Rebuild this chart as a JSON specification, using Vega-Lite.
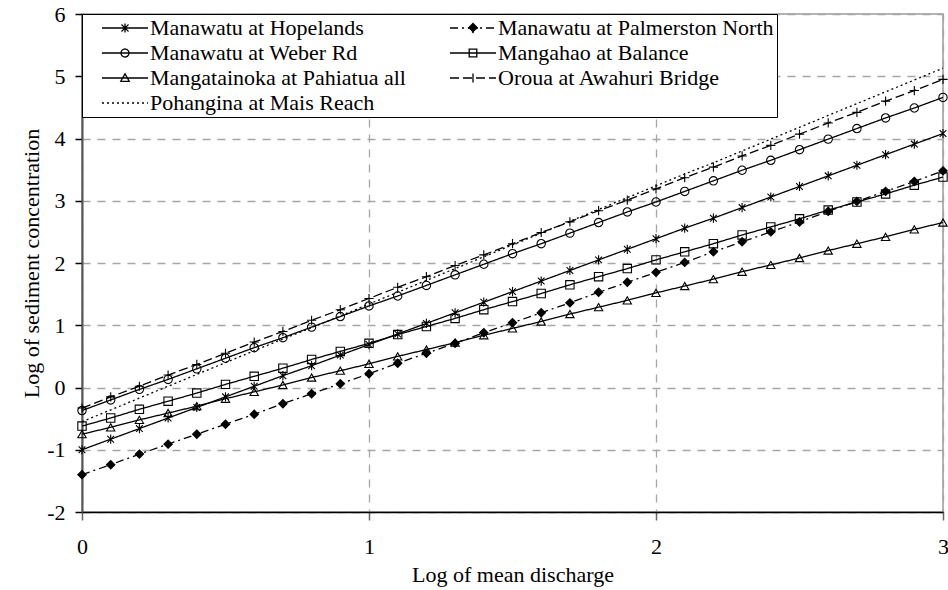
{
  "$schema": "https://vega.github.io/schema/vega-lite/v6.json",
  "width": 861,
  "height": 498,
  "autosize": {"type": "none"},
  "padding": {"left": 82, "top": 14, "right": 5, "bottom": 78},
  "background": "white",
  "config": {
    "font": "Liberation Serif",
    "view": {"stroke": "#9a9a9a", "strokeWidth": 1.5},
    "axis": {
      "labelFont": "Liberation Serif",
      "titleFont": "Liberation Serif",
      "labelFontSize": 22,
      "titleFontSize": 22,
      "titleFontWeight": "normal",
      "labelColor": "black",
      "titleColor": "black",
      "labelFlush": false,
      "gridColor": "#a6a6a6",
      "gridDash": [8, 7],
      "gridWidth": 1.3
    }
  },
  "data": {
    "values": [
      {"x": 0.0, "Manawatu at Hopelands": -1.00, "Manawatu at Palmerston North": -1.40, "Manawatu at Weber Rd": -0.37, "Mangahao at Balance": -0.62, "Mangatainoka at Pahiatua all": -0.75, "Oroua at Awahuri Bridge": -0.33, "Pohangina at Mais Reach": -0.55},
      {"x": 0.1, "Manawatu at Hopelands": -0.83, "Manawatu at Palmerston North": -1.24, "Manawatu at Weber Rd": -0.20, "Mangahao at Balance": -0.49, "Mangatainoka at Pahiatua all": -0.64, "Oroua at Awahuri Bridge": -0.15, "Pohangina at Mais Reach": -0.36},
      {"x": 0.2, "Manawatu at Hopelands": -0.66, "Manawatu at Palmerston North": -1.07, "Manawatu at Weber Rd": -0.03, "Mangahao at Balance": -0.35, "Mangatainoka at Pahiatua all": -0.52, "Oroua at Awahuri Bridge": 0.02, "Pohangina at Mais Reach": -0.17},
      {"x": 0.3, "Manawatu at Hopelands": -0.49, "Manawatu at Palmerston North": -0.91, "Manawatu at Weber Rd": 0.13, "Mangahao at Balance": -0.22, "Mangatainoka at Pahiatua all": -0.41, "Oroua at Awahuri Bridge": 0.20, "Pohangina at Mais Reach": 0.02},
      {"x": 0.4, "Manawatu at Hopelands": -0.32, "Manawatu at Palmerston North": -0.75, "Manawatu at Weber Rd": 0.30, "Mangahao at Balance": -0.09, "Mangatainoka at Pahiatua all": -0.30, "Oroua at Awahuri Bridge": 0.37, "Pohangina at Mais Reach": 0.21},
      {"x": 0.5, "Manawatu at Hopelands": -0.15, "Manawatu at Palmerston North": -0.59, "Manawatu at Weber Rd": 0.47, "Mangahao at Balance": 0.05, "Mangatainoka at Pahiatua all": -0.18, "Oroua at Awahuri Bridge": 0.55, "Pohangina at Mais Reach": 0.40},
      {"x": 0.6, "Manawatu at Hopelands": 0.02, "Manawatu at Palmerston North": -0.43, "Manawatu at Weber Rd": 0.64, "Mangahao at Balance": 0.18, "Mangatainoka at Pahiatua all": -0.07, "Oroua at Awahuri Bridge": 0.73, "Pohangina at Mais Reach": 0.59},
      {"x": 0.7, "Manawatu at Hopelands": 0.19, "Manawatu at Palmerston North": -0.26, "Manawatu at Weber Rd": 0.80, "Mangahao at Balance": 0.31, "Mangatainoka at Pahiatua all": 0.04, "Oroua at Awahuri Bridge": 0.90, "Pohangina at Mais Reach": 0.78},
      {"x": 0.8, "Manawatu at Hopelands": 0.35, "Manawatu at Palmerston North": -0.10, "Manawatu at Weber Rd": 0.97, "Mangahao at Balance": 0.45, "Mangatainoka at Pahiatua all": 0.16, "Oroua at Awahuri Bridge": 1.08, "Pohangina at Mais Reach": 0.96},
      {"x": 0.9, "Manawatu at Hopelands": 0.52, "Manawatu at Palmerston North": 0.06, "Manawatu at Weber Rd": 1.14, "Mangahao at Balance": 0.58, "Mangatainoka at Pahiatua all": 0.27, "Oroua at Awahuri Bridge": 1.25, "Pohangina at Mais Reach": 1.15},
      {"x": 1.0, "Manawatu at Hopelands": 0.69, "Manawatu at Palmerston North": 0.22, "Manawatu at Weber Rd": 1.31, "Mangahao at Balance": 0.71, "Mangatainoka at Pahiatua all": 0.38, "Oroua at Awahuri Bridge": 1.43, "Pohangina at Mais Reach": 1.34},
      {"x": 1.1, "Manawatu at Hopelands": 0.86, "Manawatu at Palmerston North": 0.39, "Manawatu at Weber Rd": 1.47, "Mangahao at Balance": 0.85, "Mangatainoka at Pahiatua all": 0.50, "Oroua at Awahuri Bridge": 1.61, "Pohangina at Mais Reach": 1.53},
      {"x": 1.2, "Manawatu at Hopelands": 1.03, "Manawatu at Palmerston North": 0.55, "Manawatu at Weber Rd": 1.64, "Mangahao at Balance": 0.98, "Mangatainoka at Pahiatua all": 0.61, "Oroua at Awahuri Bridge": 1.78, "Pohangina at Mais Reach": 1.72},
      {"x": 1.3, "Manawatu at Hopelands": 1.20, "Manawatu at Palmerston North": 0.71, "Manawatu at Weber Rd": 1.81, "Mangahao at Balance": 1.11, "Mangatainoka at Pahiatua all": 0.72, "Oroua at Awahuri Bridge": 1.96, "Pohangina at Mais Reach": 1.91},
      {"x": 1.4, "Manawatu at Hopelands": 1.37, "Manawatu at Palmerston North": 0.88, "Manawatu at Weber Rd": 1.98, "Mangahao at Balance": 1.25, "Mangatainoka at Pahiatua all": 0.84, "Oroua at Awahuri Bridge": 2.13, "Pohangina at Mais Reach": 2.10},
      {"x": 1.5, "Manawatu at Hopelands": 1.54, "Manawatu at Palmerston North": 1.04, "Manawatu at Weber Rd": 2.15, "Mangahao at Balance": 1.38, "Mangatainoka at Pahiatua all": 0.95, "Oroua at Awahuri Bridge": 2.31, "Pohangina at Mais Reach": 2.29},
      {"x": 1.6, "Manawatu at Hopelands": 1.71, "Manawatu at Palmerston North": 1.20, "Manawatu at Weber Rd": 2.31, "Mangahao at Balance": 1.51, "Mangatainoka at Pahiatua all": 1.06, "Oroua at Awahuri Bridge": 2.49, "Pohangina at Mais Reach": 2.48},
      {"x": 1.7, "Manawatu at Hopelands": 1.88, "Manawatu at Palmerston North": 1.36, "Manawatu at Weber Rd": 2.48, "Mangahao at Balance": 1.65, "Mangatainoka at Pahiatua all": 1.18, "Oroua at Awahuri Bridge": 2.66, "Pohangina at Mais Reach": 2.67},
      {"x": 1.8, "Manawatu at Hopelands": 2.05, "Manawatu at Palmerston North": 1.53, "Manawatu at Weber Rd": 2.65, "Mangahao at Balance": 1.78, "Mangatainoka at Pahiatua all": 1.29, "Oroua at Awahuri Bridge": 2.84, "Pohangina at Mais Reach": 2.86},
      {"x": 1.9, "Manawatu at Hopelands": 2.22, "Manawatu at Palmerston North": 1.69, "Manawatu at Weber Rd": 2.82, "Mangahao at Balance": 1.91, "Mangatainoka at Pahiatua all": 1.40, "Oroua at Awahuri Bridge": 3.01, "Pohangina at Mais Reach": 3.05},
      {"x": 2.0, "Manawatu at Hopelands": 2.39, "Manawatu at Palmerston North": 1.85, "Manawatu at Weber Rd": 2.98, "Mangahao at Balance": 2.05, "Mangatainoka at Pahiatua all": 1.52, "Oroua at Awahuri Bridge": 3.19, "Pohangina at Mais Reach": 3.24},
      {"x": 2.1, "Manawatu at Hopelands": 2.56, "Manawatu at Palmerston North": 2.01, "Manawatu at Weber Rd": 3.15, "Mangahao at Balance": 2.18, "Mangatainoka at Pahiatua all": 1.63, "Oroua at Awahuri Bridge": 3.37, "Pohangina at Mais Reach": 3.43},
      {"x": 2.2, "Manawatu at Hopelands": 2.72, "Manawatu at Palmerston North": 2.18, "Manawatu at Weber Rd": 3.32, "Mangahao at Balance": 2.31, "Mangatainoka at Pahiatua all": 1.74, "Oroua at Awahuri Bridge": 3.54, "Pohangina at Mais Reach": 3.61},
      {"x": 2.3, "Manawatu at Hopelands": 2.89, "Manawatu at Palmerston North": 2.34, "Manawatu at Weber Rd": 3.49, "Mangahao at Balance": 2.45, "Mangatainoka at Pahiatua all": 1.86, "Oroua at Awahuri Bridge": 3.72, "Pohangina at Mais Reach": 3.80},
      {"x": 2.4, "Manawatu at Hopelands": 3.06, "Manawatu at Palmerston North": 2.50, "Manawatu at Weber Rd": 3.65, "Mangahao at Balance": 2.58, "Mangatainoka at Pahiatua all": 1.97, "Oroua at Awahuri Bridge": 3.89, "Pohangina at Mais Reach": 3.99},
      {"x": 2.5, "Manawatu at Hopelands": 3.23, "Manawatu at Palmerston North": 2.66, "Manawatu at Weber Rd": 3.82, "Mangahao at Balance": 2.71, "Mangatainoka at Pahiatua all": 2.08, "Oroua at Awahuri Bridge": 4.07, "Pohangina at Mais Reach": 4.18},
      {"x": 2.6, "Manawatu at Hopelands": 3.40, "Manawatu at Palmerston North": 2.83, "Manawatu at Weber Rd": 3.99, "Mangahao at Balance": 2.85, "Mangatainoka at Pahiatua all": 2.20, "Oroua at Awahuri Bridge": 4.25, "Pohangina at Mais Reach": 4.37},
      {"x": 2.7, "Manawatu at Hopelands": 3.57, "Manawatu at Palmerston North": 2.99, "Manawatu at Weber Rd": 4.16, "Mangahao at Balance": 2.98, "Mangatainoka at Pahiatua all": 2.31, "Oroua at Awahuri Bridge": 4.42, "Pohangina at Mais Reach": 4.56},
      {"x": 2.8, "Manawatu at Hopelands": 3.74, "Manawatu at Palmerston North": 3.15, "Manawatu at Weber Rd": 4.33, "Mangahao at Balance": 3.11, "Mangatainoka at Pahiatua all": 2.42, "Oroua at Awahuri Bridge": 4.60, "Pohangina at Mais Reach": 4.75},
      {"x": 2.9, "Manawatu at Hopelands": 3.91, "Manawatu at Palmerston North": 3.31, "Manawatu at Weber Rd": 4.49, "Mangahao at Balance": 3.25, "Mangatainoka at Pahiatua all": 2.54, "Oroua at Awahuri Bridge": 4.77, "Pohangina at Mais Reach": 4.94},
      {"x": 3.0, "Manawatu at Hopelands": 4.08, "Manawatu at Palmerston North": 3.48, "Manawatu at Weber Rd": 4.66, "Mangahao at Balance": 3.38, "Mangatainoka at Pahiatua all": 2.65, "Oroua at Awahuri Bridge": 4.95, "Pohangina at Mais Reach": 5.13}
    ]
  },
  "transform": [
    {"fold": ["Manawatu at Hopelands", "Manawatu at Palmerston North", "Manawatu at Weber Rd", "Mangahao at Balance", "Mangatainoka at Pahiatua all", "Oroua at Awahuri Bridge", "Pohangina at Mais Reach"], "as": ["series", "y"]}
  ],
  "encoding": {
    "x": {
      "field": "x", "type": "quantitative",
      "scale": {"domain": [0, 3], "nice": false, "zero": false},
      "axis": {"values": [0, 1, 2, 3], "labelExpr": "datum.value + ''", "title": "Log of mean discharge", "grid": true,
               "domainColor": "black", "domainWidth": 1.5, "tickColor": "#666", "tickSize": 8, "tickWidth": 1.5,
               "labelPadding": 16, "titlePadding": 7}
    },
    "y": {
      "field": "y", "type": "quantitative",
      "scale": {"domain": [-2, 6], "nice": false, "zero": false},
      "axis": {"values": [-2, -1, 0, 1, 2, 3, 4, 5, 6], "labelExpr": "datum.value + ''", "title": "Log of sediment concentration", "grid": true,
               "domainColor": "#555", "domainWidth": 2, "tickColor": "black", "tickSize": 7, "tickWidth": 1.5,
               "labelPadding": 10, "titlePadding": 3}
    }
  },
  "layer": [
    {
      "mark": {"type": "line", "color": "black", "strokeWidth": 1.3},
      "encoding": {
        "strokeDash": {
          "field": "series", "type": "nominal",
          "scale": {
            "domain": ["Manawatu at Hopelands", "Manawatu at Weber Rd", "Mangatainoka at Pahiatua all", "Pohangina at Mais Reach", "Manawatu at Palmerston North", "Mangahao at Balance", "Oroua at Awahuri Bridge"],
            "range": [[1, 0], [1, 0], [1, 0], [2, 3], [8, 4, 2, 4], [1, 0], [9, 4]]
          },
          "legend": {
            "title": null,
            "orient": "top-left",
            "offset": 0,
            "columns": 2,
            "columnPadding": 27,
            "rowPadding": 3,
            "padding": 3,
            "strokeColor": "black",
            "fillColor": "white",
            "symbolSize": 400,
            "symbolOffset": 29,
            "symbolStrokeWidth": 1.3,
            "symbolStrokeColor": "black",
            "symbolType": {"expr": "datum.value === 'Manawatu at Hopelands' ? 'M-2.3,0H2.3M-0.35,-0.35L0.35,0.35M-0.35,0.35L0.35,-0.35M0,-0.45V0.45' : datum.value === 'Manawatu at Palmerston North' ? 'M-2.3,0H2.3M0,-0.45L0.45,0L0,0.45L-0.45,0Z' : datum.value === 'Manawatu at Weber Rd' ? 'M-2.3,0H2.3M0.4,0A0.4,0.4,0,1,1,-0.4,0A0.4,0.4,0,1,1,0.4,0' : datum.value === 'Mangahao at Balance' ? 'M-2.3,0H2.3M-0.38,-0.38H0.38V0.38H-0.38Z' : datum.value === 'Mangatainoka at Pahiatua all' ? 'M-2.3,0H2.3M0,-0.42L0.42,0.33L-0.42,0.33Z' : datum.value === 'Oroua at Awahuri Bridge' ? 'M-2.3,0H2.3M0,-0.45V0.45' : 'M-2.3,0H2.3'"},
            "symbolFillColor": {"expr": "datum.value === 'Manawatu at Palmerston North' ? 'black' : 'transparent'"},
            "labelOffset": 14,
            "labelFont": "Liberation Serif",
            "labelFontSize": 22,
            "labelColor": "black",
            "labelLimit": 400
          }
        }
      }
    },
    {
      "transform": [{"filter": "datum.series !== 'Pohangina at Mais Reach'"}],
      "mark": {"type": "point", "filled": false, "stroke": "black", "strokeWidth": 1.1, "size": 70, "opacity": 1},
      "encoding": {
        "shape": {
          "field": "series", "type": "nominal",
          "scale": {
            "domain": ["Manawatu at Hopelands", "Manawatu at Palmerston North", "Manawatu at Weber Rd", "Mangahao at Balance", "Mangatainoka at Pahiatua all", "Oroua at Awahuri Bridge"],
            "range": ["M-0.8,-0.8L0.8,0.8M-0.8,0.8L0.8,-0.8M0,-1.1V1.1", "diamond", "circle", "square", "triangle-up", "M-1.1,0H1.1M0,-1.1V1.1"]
          },
          "legend": null
        },
        "fill": {
          "field": "series", "type": "nominal",
          "scale": {
            "domain": ["Manawatu at Hopelands", "Manawatu at Palmerston North", "Manawatu at Weber Rd", "Mangahao at Balance", "Mangatainoka at Pahiatua all", "Oroua at Awahuri Bridge"],
            "range": ["transparent", "black", "transparent", "transparent", "transparent", "transparent"]
          },
          "legend": null
        }
      }
    }
  ]
}
